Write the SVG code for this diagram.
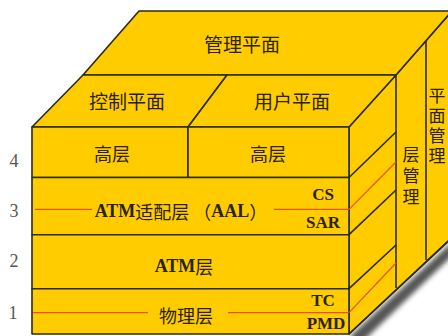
<svg xmlns="http://www.w3.org/2000/svg" width="448" height="336" viewBox="0 0 448 336">
<style>
.f{fill:#FFCC00;stroke:#2B2B10;stroke-width:1.6;stroke-linejoin:round}
.ln{stroke:#2B2B10;stroke-width:1.6;fill:none}
.rd{stroke:#E8501A;stroke-width:1.2;fill:none}
.t{font-family:"Noto Sans CJK SC","Liberation Serif",serif;font-size:18px;fill:#2A2200;text-anchor:middle;dominant-baseline:central}
.big{font-size:19px}
.vt{font-family:"Noto Sans CJK SC",sans-serif;font-size:17px;fill:#2A2200;text-anchor:middle;writing-mode:vertical-rl}
.lat{font-family:"Liberation Serif","Noto Sans CJK SC",serif;font-size:17px;font-weight:bold;fill:#2A2200;text-anchor:middle;dominant-baseline:central}
.lt{font-family:"Liberation Serif",serif;font-weight:bold}
.num{font-family:"Liberation Serif",serif;font-size:18px;fill:#555;text-anchor:middle;dominant-baseline:central}
</style>
<defs>
<filter id="blur" x="-20%" y="-20%" width="140%" height="140%"><feGaussianBlur stdDeviation="2.5"/></filter>
</defs>
<rect width="448" height="336" fill="#FFFFFF"/>
<g id="shadow">
<polygon points="350,336 452,242 452,256 358,346" fill="#555" filter="url(#blur)"/>
</g>
<g id="side-face">
<polygon class="f" points="349,127 396,75 452,11 452,239 448,241 349,334"/>
</g>
<g id="mgmt-plane-top">
<polygon class="f" points="139,11 452,11 396,75 83,75"/>
<text class="t big" x="242" y="43">管理平面</text>
</g>
<g id="control-plane">
<polygon class="f" points="83,75 227,75 188,127 32,127"/>
<text class="t big" x="127" y="100">控制平面</text>
</g>
<g id="user-plane">
<polygon class="f" points="227,75 396,75 349,127 188,127"/>
<text class="t big" x="292" y="100">用户平面</text>
</g>
<g id="layer4-left">
<rect class="f" x="32" y="127" width="156" height="50.5"/>
<text class="t" x="112" y="153">高层</text>
</g>
<g id="layer4-right">
<rect class="f" x="188" y="127" width="161" height="50.5"/>
<text class="t" x="268" y="153">高层</text>
</g>
<g id="layer3">
<rect class="f" x="32" y="177.5" width="317" height="57.2"/>
<text class="t" x="181" y="210.5"><tspan class="lt">ATM</tspan>适配层 （<tspan class="lt">AAL</tspan>）</text>
<text class="lat" x="323" y="194.5">CS</text>
<text class="lat" x="323" y="222">SAR</text>
</g>
<g id="layer2">
<rect class="f" x="32" y="234.7" width="317" height="54"/>
<text class="t" x="184" y="266"><tspan class="lt">ATM</tspan>层</text>
</g>
<g id="layer1">
<rect class="f" x="32" y="288.7" width="317" height="45.3"/>
<text class="t" x="186" y="315">物理层</text>
<text class="lat" x="323" y="300.5">TC</text>
<text class="lat" x="326" y="323">PMD</text>
</g>
<g id="layer-mgmt">
<text class="vt" x="411" y="178" letter-spacing="4">层管理</text>
</g>
<g id="plane-mgmt">
<text class="vt" x="437" y="127.5" letter-spacing="3">平面管理</text>
</g>
<g id="numbers">
<text class="num" x="14" y="160.5">4</text>
<text class="num" x="14" y="210.5">3</text>
<text class="num" x="14" y="260.5">2</text>
<text class="num" x="13" y="313">1</text>
</g>
<g id="connectors">
<line class="ln" x1="396" y1="75" x2="396" y2="288"/>
<line class="ln" x1="426" y1="41" x2="426" y2="260"/>
<line class="ln" x1="349" y1="177.5" x2="396" y2="132"/>
<line class="ln" x1="349" y1="234.7" x2="396" y2="190"/>
<line class="ln" x1="349" y1="288.7" x2="396" y2="245"/>
<line class="ln" x1="349" y1="334" x2="452" y2="238"/>
<line class="rd" x1="349" y1="209.3" x2="396" y2="162"/>
<line class="rd" x1="349" y1="312.7" x2="396" y2="263"/>
<line class="rd" x1="35" y1="209.3" x2="92" y2="209.3"/>
<line class="rd" x1="274" y1="209.3" x2="349" y2="209.3"/>
<line class="rd" x1="33" y1="312.7" x2="148" y2="312.7"/>
<line class="rd" x1="228" y1="312.7" x2="349" y2="312.7"/>
</g>
</svg>
